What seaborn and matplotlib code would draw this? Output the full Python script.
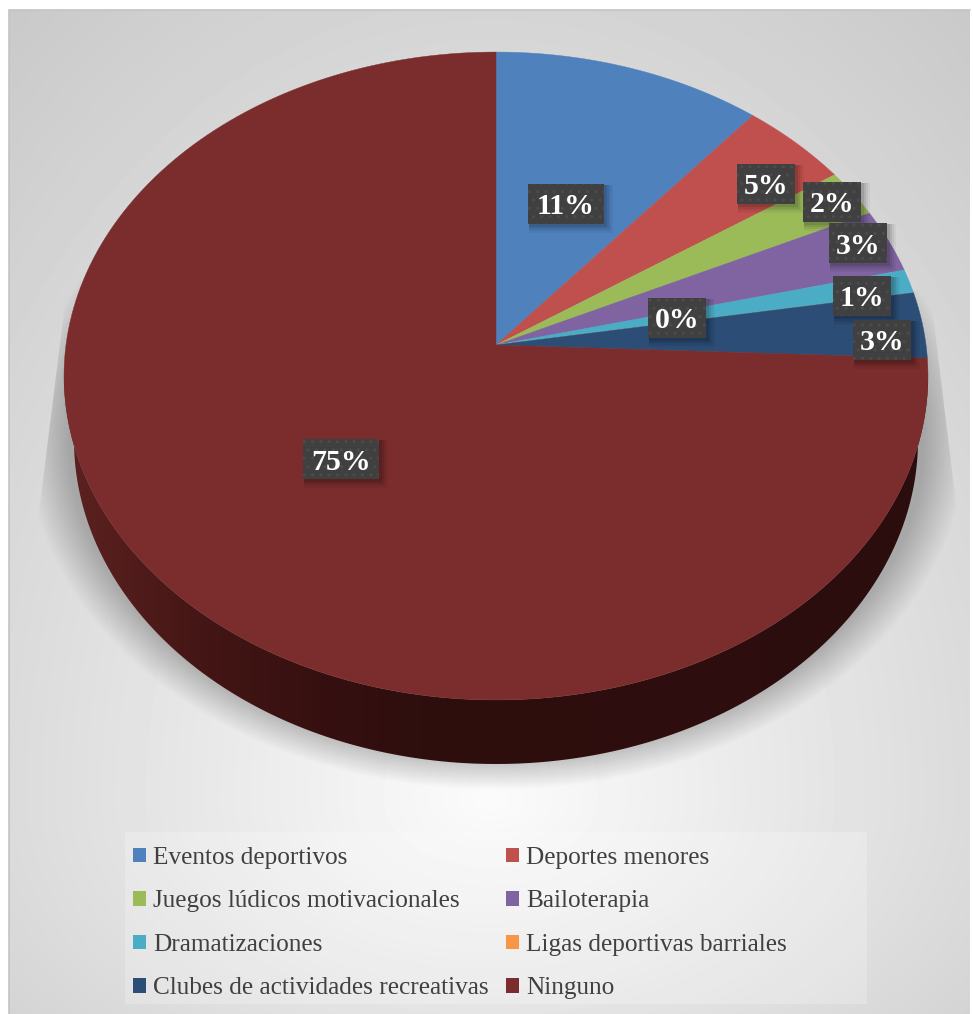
import numpy as np
import seaborn as sns
import matplotlib
matplotlib.use('Agg')
import matplotlib.pyplot as plt
from matplotlib.patches import Patch, Polygon, Rectangle

# datos
categorias = ['Eventos deportivos', 'Deportes menores', 'Juegos lúdicos motivacionales', 'Bailoterapia',
              'Dramatizaciones', 'Ligas deportivas barriales', 'Clubes de actividades recreativas', 'Ninguno']
valores = [11.1, 4.5, 2.4, 3.2, 1.2, 0.0, 3.3, 74.5]
etiquetas = ['11%', '5%', '2%', '3%', '1%', '0%', '3%', '75%']
colores = ['#4F81BD', '#C0504D', '#9BBB59', '#8064A2', '#4BACC6', '#F79646', '#2C4D75', '#7A2D2C']

# centro de cada etiqueta (pixeles) en el mismo orden
pos_etiquetas = [(566, 204), (766, 184), (832, 202), (858, 243), (862, 296), (677, 318), (882, 340), (341, 459)]

sns.set_theme(style='white')
plt.rcParams['font.family'] = ['Liberation Serif', 'DejaVu Serif']

fig = plt.figure(figsize=(9.73, 10.14), dpi=100)
ax = fig.add_axes([0, 0, 1, 1])
paleta = sns.color_palette(colores)

# pie normal, despues se pasa cada cuña a perspectiva
wedges, _ = ax.pie(valores, startangle=90, counterclock=False, colors=paleta)
angulos = [(w.theta1, w.theta2) for w in wedges]
for w in wedges:
    w.remove()

ax.set_aspect('auto')
ax.set_xlim(0, 973)
ax.set_ylim(1014, 0)
ax.axis('off')

# fondo
yy, xx = np.mgrid[10:1014, 9:970]
esc_y = np.where(yy > 800, 500.0, 1100.0)
r = np.sqrt(((xx - 490) / 800.0) ** 2 + ((yy - 800) / esc_y) ** 2)
fondo = np.clip(0.985 - 0.21 * r, 0, 1)
ax.imshow(fondo, extent=(9, 970, 1014, 10), cmap='gray', vmin=0, vmax=1, aspect='auto', zorder=0)
ax.plot([9, 9, 970], [1014, 10, 10], color='#c4c4c4', lw=1.2, zorder=1)

# sombra bajo el pastel
yy2, xx2 = np.mgrid[270:800, 30:966]
d = np.sqrt(((xx2 - 496) / 470.0) ** 2 + ((yy2 - 440) / 350.0) ** 2)
alfa = np.clip((1.0 - d) / 0.09, 0, 1) * 0.24
alfa[yy2 > 790] = 0
sombra = np.zeros(alfa.shape + (4,))
sombra[..., 3] = alfa
im = ax.imshow(sombra, extent=(30, 966, 800, 270), aspect='auto', zorder=1.5)
clip = Polygon([(68, 280), (38, 520), (38, 800), (960, 800), (958, 520), (930, 290)], closed=True,
               transform=ax.transData, fc='none', ec='none')
ax.add_patch(clip)
im.set_clip_path(clip)

# parametros de la perspectiva
cx, cy = 496, 345
k = 0.0957
a = 321.0
b = 430.0


def proyecta(theta):
    u = np.cos(np.radians(theta))
    v = np.sin(np.radians(theta))
    den = 1 + k * v
    return cx + b * u / den, cy - a * v / den


# pared lateral con degradado
t = np.linspace(0, 180, 240)
x_sup = 496 + 432 * np.cos(np.radians(t))
y_sup = 376 + 324 * np.sin(np.radians(t))
x_inf = 496 + 422 * np.cos(np.radians(t))
y_inf = 440 + 324 * np.sin(np.radians(t))
lado = Polygon(np.column_stack([np.r_[x_sup, x_inf[::-1]], np.r_[y_sup, y_inf[::-1]]]), closed=True,
               fc='none', ec='none')
ax.add_patch(lado)
xs = np.array([60, 110, 200, 320, 420, 930])
cs = np.array([[0x5c, 0x22, 0x21], [0x55, 0x1e, 0x1d], [0x44, 0x16, 0x15], [0x36, 0x10, 0x10], [0x2f, 0x0e, 0x0e],
               [0x2c, 0x0d, 0x0d]]) / 255.0
px = np.arange(60, 932)
grad = np.stack([np.interp(px, xs, cs[:, i]) for i in range(3)], axis=-1)[None, :, :]
g = ax.imshow(grad, extent=(60, 932, 770, 370), aspect='auto', zorder=2)
g.set_clip_path(lado)

# cara superior
for (t1, t2), col in zip(angulos, paleta):
    th = np.linspace(t1, t2, 200)
    x, y = proyecta(th)
    ax.fill(np.r_[cx, x], np.r_[cy, y], color=col, lw=0.3, zorder=3)

# etiquetas
for (xc, yc), txt in zip(pos_etiquetas, etiquetas):
    w = 76 if len(txt) == 3 else 58
    for dd, al in [(8, 0.04), (6, 0.06), (4, 0.08), (2, 0.1)]:
        ax.add_patch(Rectangle((xc - w / 2 + 1, yc - 20 + 1), w + dd, 40 + dd, fc='black', ec='none', alpha=al,
                               zorder=4))
    ax.add_patch(Rectangle((xc - w / 2, yc - 20), w, 40, fc='#404040', ec='#4c4c4c', lw=0, hatch='..', zorder=5))
    ax.text(xc, yc + 3, txt, color='white', fontsize=21.5, fontweight='bold', ha='center', va='center', zorder=6)

# leyenda: por columnas en matplotlib, asi que se reordena
ax.add_patch(Rectangle((125, 832), 742, 172, fc='white', ec='none', alpha=0.22, zorder=6.5))
orden = [0, 2, 4, 6, 1, 3, 5, 7]
handles = [Patch(fc=paleta[i], ec='none', label=categorias[i]) for i in orden]
ley = ax.legend(handles=handles, ncols=2, loc='upper left', bbox_to_anchor=(133 / 973, 1 - 847 / 1014),
                bbox_transform=ax.transAxes, frameon=False, fontsize=18.2, labelcolor='#404040',
                handlelength=0.52, handleheight=0.52, handletextpad=0.28, labelspacing=0.85, columnspacing=0.66,
                borderaxespad=0, borderpad=0)
ley.set_zorder(7)

fig.savefig('out.png', dpi=100)
